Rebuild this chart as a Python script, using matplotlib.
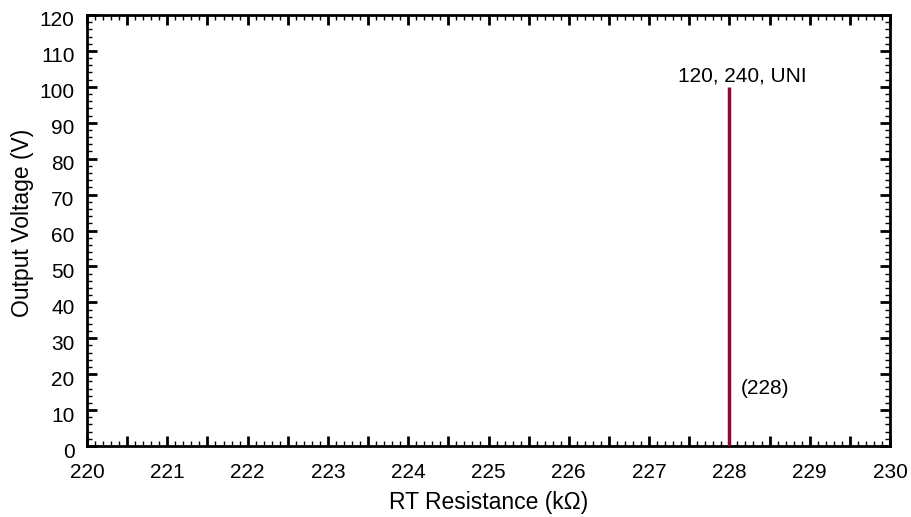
import matplotlib
matplotlib.use('Agg')
import matplotlib.pyplot as plt
import matplotlib.transforms as mtransforms
from matplotlib.ticker import MultipleLocator, FuncFormatter

plt.rcParams['font.family'] = ['Liberation Sans', 'DejaVu Sans']

# data
resistance = [228, 228]
voltage = [0, 100]
label_top = '120, 240, UNI'
label_pos = '(228)'
yticks = [0, 10, 20, 30, 40, 50, 60, 70, 80, 90, 100, 110, 120]

fig = plt.figure(figsize=(9.11, 5.17), dpi=100)
ax = fig.add_axes([87 / 911, 1 - 446 / 517, (890 - 87) / 911, (446 - 15) / 517])

ax.plot(resistance, voltage, color='#8b0a3c', lw=2.5, solid_capstyle='butt', zorder=3)
ax.text(228.16, 101.6, label_top, ha='center', va='baseline', fontsize=15)
ax.text(228.14, 15.9, label_pos, ha='left', va='center', fontsize=15)

ax.set_xlim(220, 230)
ax.set_ylim(0, 120)
ax.xaxis.set_major_locator(MultipleLocator(0.5))
ax.xaxis.set_major_formatter(FuncFormatter(
    lambda v, p: '%d' % round(v) if abs(v - round(v)) < 1e-6 else ''))
ax.set_yticks(yticks)
ax.xaxis.set_minor_locator(MultipleLocator(0.1))
ax.yaxis.set_minor_locator(MultipleLocator(2))

ax.tick_params(which='major', direction='in', length=7, width=2,
               top=True, right=True, labelsize=15)
ax.tick_params(axis='x', which='major', pad=12)
ax.tick_params(axis='y', which='major', pad=9)
ax.tick_params(which='minor', direction='in', length=3.5, width=1,
               top=True, right=True)
for side in ax.spines.values():
    side.set_linewidth(2)

# y tick labels sit a little below their ticks in the original
shift = mtransforms.ScaledTranslation(0, -4 / 100, fig.dpi_scale_trans)
for lab in ax.get_yticklabels():
    lab.set_transform(lab.get_transform() + shift)

ax.set_xlabel('RT Resistance (kΩ)', fontsize=16.5, labelpad=7)
ax.set_ylabel('Output Voltage (V)', fontsize=16.5)
ax.yaxis.set_label_coords(-0.066, 0.517)

fig.savefig('out.png', dpi=100)
